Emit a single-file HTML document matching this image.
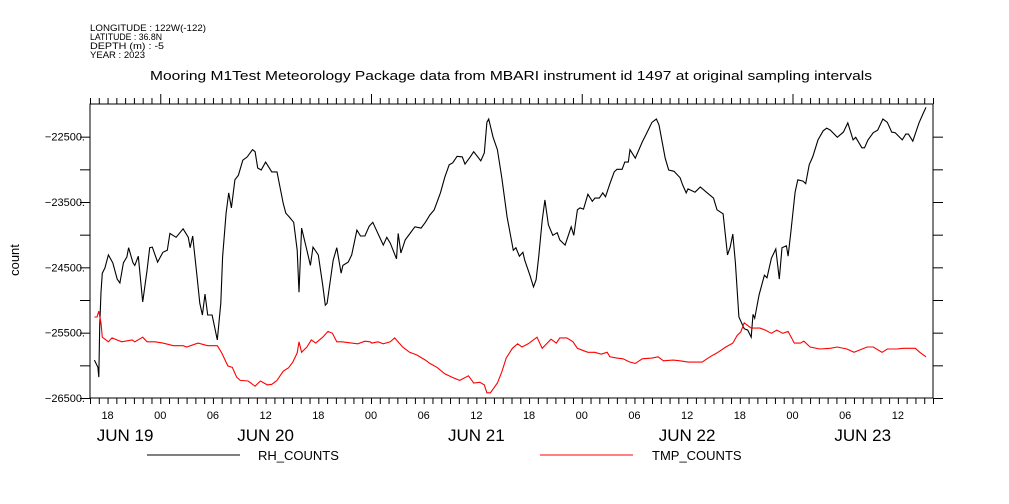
<!DOCTYPE html>
<html><head><meta charset="utf-8"><style>
html,body{margin:0;padding:0;background:#fff;}
svg{display:block;font-family:"Liberation Sans",sans-serif;}
</style></head><body>
<svg id="chart" width="1009" height="504" viewBox="0 0 1009 504">
<g id="hdr" font-size="9" fill="#000">
<text x="90" y="31" textLength="116" lengthAdjust="spacingAndGlyphs">LONGITUDE : 122W(-122)</text>
<text x="90" y="40" textLength="72" lengthAdjust="spacingAndGlyphs">LATITUDE : 36.8N</text>
<text x="90" y="49" textLength="74" lengthAdjust="spacingAndGlyphs">DEPTH (m) : -5</text>
<text x="90" y="58" textLength="55" lengthAdjust="spacingAndGlyphs">YEAR : 2023</text>
</g>
<text x="150" y="80" font-size="13" textLength="722" lengthAdjust="spacingAndGlyphs">Mooring M1Test Meteorology Package data from MBARI instrument id 1497 at original sampling intervals</text>
<text transform="translate(19,260) rotate(-90)" text-anchor="middle" font-size="13">count</text>
<g id="axes"></g>
<g id="series"></g>
<g id="legend">
<line x1="147" y1="455" x2="240" y2="455" stroke="#000" stroke-width="1"/>
<text x="258" y="460" font-size="13">RH_COUNTS</text>
<line x1="540" y1="455" x2="633" y2="455" stroke="#f00" stroke-width="1"/>
<text x="652" y="460" font-size="13">TMP_COUNTS</text>
</g>
</svg>
<script>
// hours since JUN 19 16:00
const rhHours=[0.5,0.9,1.0,1.1,1.25,1.4,1.7,2.1,2.6,3.1,3.4,3.8,4.2,4.4,4.9,5.1,5.5,6.0,6.5,6.8,7.1,7.7,8.3,8.8,9.1,9.8,10.6,11.2,11.4,11.7,12.2,12.5,12.8,13.1,13.4,13.9,14.5,14.9,15.1,15.5,15.8,16.1,16.5,16.9,17.4,17.9,18.5,18.8,19.1,19.5,20.0,20.7,21.3,22.0,22.3,22.7,23.2,23.6,23.8,24.1,24.7,25.1,25.4,26.0,26.5,26.8,27.0,27.7,28.1,28.6,28.8,29.4,29.8,30.4,30.8,31.3,31.8,32.2,33.4,33.8,34.2,34.9,35.1,35.4,35.9,36.4,37.0,37.7,38.2,38.7,39.2,39.9,40.4,40.9,41.3,41.8,42.4,42.7,43.3,43.7,44.5,44.9,45.2,45.4,45.9,46.4,46.9,47.5,48.2,48.5,48.9,49.3,49.5,50.1,50.5,50.8,51.1,51.5,51.8,52.2,52.7,53.2,53.5,54.1,54.8,55.1,55.5,55.8,56.2,56.7,57.2,57.5,58.0,58.4,58.7,59.2,59.7,60.0,60.6,60.9,61.3,61.5,62.1,62.9,63.3,64.0,64.5,64.8,65.5,65.9,66.5,67.2,67.5,67.9,68.1,68.9,69.5,70.3,71.0,71.4,72.1,72.6,72.9,73.2,73.5,73.9,74.5,74.9,75.3,75.5,75.7,76.2,76.8,77.1,77.6,78.1,78.5,78.8,79.3,79.5,79.8,80.3,80.6,81.2,81.5,81.9,82.3,82.9,83.5,83.9,84.3,85.1,85.8,86.3,86.9,87.2,87.9,88.2,88.6,89.2,89.7,90.3,90.8,91.3,91.7,92.5,92.9,93.2,93.7,94.4,94.9,95.2];
const rhValues=[-25920,-26030,-26180,-25410,-24880,-24590,-24510,-24310,-24430,-24680,-24740,-24430,-24340,-24200,-24430,-24470,-24330,-25030,-24540,-24200,-24190,-24420,-24270,-24240,-23980,-24040,-23910,-24040,-24200,-24020,-24650,-25050,-25230,-24910,-25230,-25230,-25610,-25050,-24340,-23670,-23360,-23590,-23160,-23090,-22860,-22810,-22700,-22730,-22980,-23010,-22890,-23040,-23040,-23520,-23670,-23730,-23810,-24240,-24880,-23900,-24240,-24470,-24190,-24310,-24770,-25080,-25050,-24390,-24200,-24590,-24470,-24420,-24310,-23930,-24020,-24020,-23870,-23810,-24160,-24040,-24130,-24370,-23980,-24280,-24080,-23990,-23880,-23900,-23810,-23700,-23620,-23360,-23120,-22930,-22900,-22800,-22810,-22920,-22810,-22730,-22870,-22750,-22280,-22230,-22510,-22700,-23130,-23730,-24240,-24200,-24330,-24270,-24390,-24620,-24800,-24690,-24340,-23780,-23470,-23850,-24010,-23970,-24080,-24160,-23880,-24010,-23620,-23590,-23610,-23380,-23490,-23440,-23440,-23360,-23420,-23220,-23040,-23000,-23000,-22890,-22890,-22700,-22830,-22580,-22470,-22280,-22230,-22320,-22830,-23010,-23030,-23130,-23240,-23360,-23300,-23350,-23270,-23360,-23440,-23620,-23680,-24310,-24190,-23990,-24430,-25260,-25440,-25460,-25570,-25220,-25280,-24920,-24620,-24660,-24360,-24220,-24680,-24200,-24170,-24330,-23980,-23350,-23160,-23180,-23220,-22930,-22810,-22550,-22410,-22370,-22400,-22510,-22430,-22290,-22550,-22510,-22670,-22670,-22550,-22440,-22400,-22230,-22280,-22430,-22440,-22550,-22460,-22460,-22570,-22290,-22140,-22050];
const tmpHours=[0.5,0.8,1.0,1.25,1.4,2.1,2.5,3.6,4.8,5.1,6.0,6.5,7.4,8.3,9.5,10.6,11.0,12.3,13.4,14.5,15.0,15.7,16.2,16.7,17.1,18.0,18.8,19.4,20.2,20.7,21.3,22.0,22.6,23.1,23.6,23.8,24.1,24.7,25.2,25.7,26.5,27.1,27.6,28.1,28.7,29.8,30.5,31.3,31.9,32.1,32.8,33.4,34.2,34.7,35.6,36.4,37.2,38.2,38.7,39.5,40.4,41.2,42.1,43.1,43.7,44.4,44.9,45.2,45.6,46.4,46.9,47.4,48.1,48.7,49.2,49.9,50.9,51.5,52.5,53.1,53.5,54.3,55.0,55.5,56.1,56.7,57.5,58.2,58.9,59.2,60.0,60.7,61.5,62.1,62.9,64.0,64.7,65.3,66.4,67.2,68.1,69.7,70.6,71.4,72.4,73.2,73.7,74.1,74.5,75.3,76.3,76.9,77.6,78.2,78.9,79.5,80.2,80.9,81.3,82.0,83.1,84.3,85.1,86.2,87.0,88.5,89.2,90.2,90.8,91.9,92.6,94.0,94.5,95.2];
const tmpValues=[-25260,-25260,-25170,-25350,-25570,-25640,-25580,-25640,-25610,-25640,-25570,-25640,-25640,-25660,-25700,-25700,-25720,-25660,-25700,-25700,-25810,-26010,-26030,-26180,-26230,-26240,-26320,-26240,-26300,-26290,-26230,-26090,-26040,-25950,-25810,-25640,-25800,-25720,-25610,-25660,-25570,-25480,-25510,-25640,-25640,-25660,-25670,-25630,-25640,-25660,-25640,-25670,-25640,-25580,-25720,-25800,-25840,-25920,-25970,-26030,-26130,-26180,-26230,-26160,-26270,-26260,-26300,-26420,-26420,-26270,-26100,-25890,-25740,-25670,-25720,-25670,-25570,-25740,-25600,-25660,-25580,-25580,-25640,-25740,-25770,-25800,-25800,-25830,-25800,-25870,-25890,-25900,-25950,-25970,-25900,-25890,-25870,-25930,-25920,-25930,-25950,-25950,-25870,-25810,-25720,-25660,-25540,-25490,-25350,-25430,-25430,-25460,-25510,-25460,-25510,-25480,-25660,-25660,-25630,-25720,-25750,-25740,-25720,-25750,-25800,-25720,-25720,-25800,-25750,-25750,-25740,-25740,-25800,-25870];
const yTickValues=[-22500,-23500,-24500,-25500,-26500];
const yMinorValues=[-23000,-24000,-25000,-26000];
const hourLabels=["18","00","06","12","18","00","06","12","18","00","06","12","18","00","06","12"];
const dayLabels=["JUN 19","JUN 20","JUN 21","JUN 22","JUN 23"];

const X0=90,X1=933,Y0=104,Y1=398,HMAX=96,VMAX=-22000,VMIN=-26500;
const xs=h=>X0+h*(X1-X0)/HMAX;
const ys=v=>Y0+(VMAX-v)*(Y1-Y0)/(VMAX-VMIN);
const NS="http://www.w3.org/2000/svg";
function mk(tag,parent){const e=document.createElementNS(NS,tag);parent.appendChild(e);return e;}
const axes=document.getElementById('axes');
const frame=mk('rect',axes);
frame.setAttribute('x',X0);frame.setAttribute('y',Y0);frame.setAttribute('width',X1-X0);frame.setAttribute('height',Y1-Y0);
frame.setAttribute('fill','none');frame.setAttribute('stroke','#000');frame.setAttribute('stroke-width','1');


// time ticks hourly
for(let h=0;h<=HMAX;h++){
  const x=xs(h)+0.5;const major=((h+16)%24===0);
  const t=mk('line',axes);
  t.setAttribute('x1',x);t.setAttribute('x2',x);t.setAttribute('y1',Y0);t.setAttribute('y2',Y0-(major?10:6));t.setAttribute('stroke','#000');
  
  
  const b=mk('line',axes);
  b.setAttribute('x1',x);b.setAttribute('x2',x);b.setAttribute('y1',Y1);b.setAttribute('y2',Y1+6);b.setAttribute('stroke','#000');
  
  
}
hourLabels.forEach((lab,i)=>{
  const h=2+6*i;
  const t=mk('text',axes);
  t.setAttribute('x',xs(h));t.setAttribute('y',419);t.setAttribute('text-anchor','middle');t.setAttribute('font-size','11');
  t.textContent=lab;
  
  
});
dayLabels.forEach((lab,i)=>{
  const s=Math.max(0,i*24-16),e=Math.min(HMAX,i*24+8);
  const t=mk('text',axes);
  t.setAttribute('x',(xs(s)+xs(e))/2);t.setAttribute('y',441);t.setAttribute('text-anchor','middle');t.setAttribute('font-size','17');
  t.textContent=lab;
  
  
});
yTickValues.concat(yMinorValues).forEach(v=>{
  const y=ys(v)+0.5;
  [[X0-10,X0],[X1,X1+10]].forEach(p=>{
    const l=mk('line',axes);
    l.setAttribute('x1',p[0]);l.setAttribute('x2',p[1]);l.setAttribute('y1',y);l.setAttribute('y2',y);l.setAttribute('stroke','#000');
    
    
  });
});
yTickValues.forEach(v=>{
  const t=mk('text',axes);
  t.setAttribute('x',X0-5);t.setAttribute('y',ys(v)+4);t.setAttribute('text-anchor','end');t.setAttribute('font-size','11');
  t.textContent=String(v).replace('-','\u2212')+'.';
  
  
});
const series=document.getElementById('series');
function drawLine(hs,vs,color,name){
  const p=mk('polyline',series);
  p.setAttribute('points',hs.map((h,i)=>xs(h).toFixed(1)+','+ys(vs[i]).toFixed(1)).join(' '));
  p.setAttribute('fill','none');p.setAttribute('stroke',color);p.setAttribute('stroke-width','1.1');
  
  
}
drawLine(rhHours,rhValues,'#000','rh-counts-line');
drawLine(tmpHours,tmpValues,'#f00','tmp-counts-line');
</script>
</body></html>
